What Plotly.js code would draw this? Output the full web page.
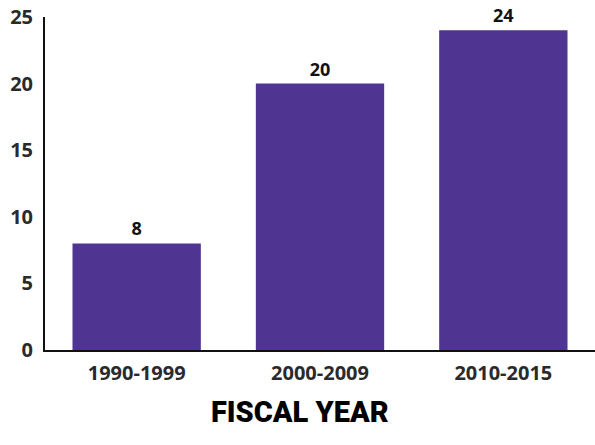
<!DOCTYPE html>
<html><head><meta charset="utf-8">
<script src="https://cdn.plot.ly/plotly-3.0.1.min.js"></script>
<style>html,body{margin:0;padding:0;background:#fff}</style>
</head><body><div id="chart" style="width:595px;height:445px"></div>
<script>
const categories = ["1990-1999", "2000-2009", "2010-2015"];
const values = [8, 20, 24];
const yTicks = [0, 5, 10, 15, 20, 25];
const xTitle = "FISCAL YEAR";

Plotly.newPlot("chart", [{
  type: "bar",
  x: categories,
  y: values,
  text: values.map(String),
  textposition: "outside",
  cliponaxis: false,
  textfont: {family: "Open Sans, sans-serif", size: 18, color: "#111", weight: 700},
  marker: {color: "#4f3591"},
  width: 0.7,
  hoverinfo: "none"
}], {
  width: 595, height: 445,
  margin: {l: 45, r: 0, t: 17, b: 95},
  paper_bgcolor: "#fff", plot_bgcolor: "#fff",
  showlegend: false,
  xaxis: {
    range: [-0.5, 2.5],
    showline: true, linecolor: "#111", linewidth: 2,
    showgrid: false, zeroline: false, ticks: "",
    ticklabelstandoff: 4,
    tickfont: {family: "Open Sans, sans-serif", size: 20, color: "#2a2a2a", weight: 700}
  },
  yaxis: {
    range: [0, 25],
    tickvals: yTicks,
    showline: true, linecolor: "#111", linewidth: 2,
    showgrid: false, zeroline: false, ticks: "",
    ticklabelstandoff: 6,
    tickfont: {family: "Open Sans, sans-serif", size: 20, color: "#2a2a2a", weight: 700}
  },
  annotations: [{
    text: xTitle, xref: "paper", yref: "paper",
    x: (300 - 45) / 550, y: -0.185, xanchor: "center", yanchor: "middle",
    showarrow: false,
    font: {family: "Roboto, sans-serif", size: 29, color: "#000", weight: 900}
  }]
}, {staticPlot: true});
</script></body></html>
